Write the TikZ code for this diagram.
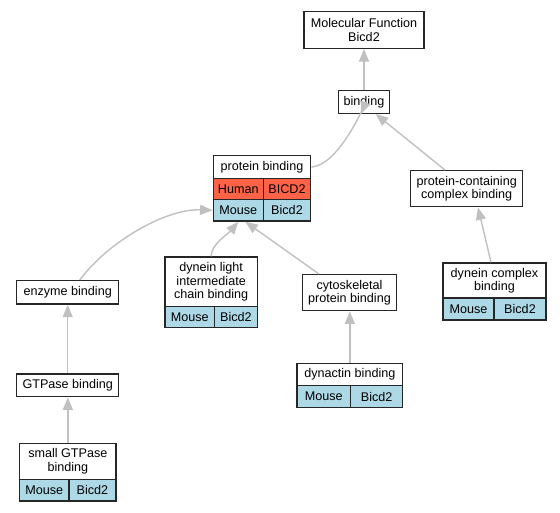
\documentclass[tikz,border=0pt]{standalone}
\usepackage{fontspec}
\setmainfont{Liberation Sans}
\usetikzlibrary{arrows.meta}
\definecolor{edgec}{HTML}{C0C0C0}
\definecolor{tomatoc}{HTML}{FF6347}
\definecolor{lbc}{HTML}{ADD8E6}
\newcommand\fnt{\fontsize{12.6}{13.2}\selectfont}
\tikzset{
  box/.style={draw=black!85, line width=1.4pt, fill=white, inner sep=0pt, align=center, font=\fnt},
  human/.style={box, fill=tomatoc},
  mouse/.style={box, fill=lbc},
  edge/.style={draw=edgec, line width=1.4pt, -{Triangle[length=12.5pt,width=10pt]}}
}
\newcommand\bx[7]{\node[#6, minimum width={#4pt-#2pt}, minimum height={#5pt-#3pt}] (#1) at ({(#2+#4)/2},{(#3+#5)/2}) {#7};}
\begin{document}
\begin{tikzpicture}[x=1pt,y=-1pt]
\useasboundingbox (0,0) rectangle (560,512);
% nodes
\bx{mf}{304}{11.7}{424}{48.3}{box}{Molecular Function\\Bicd2}
\bx{bind}{338.7}{90.3}{389.3}{113.3}{box}{binding}
\bx{pbt}{213.3}{155.7}{310.7}{178.3}{box}{protein binding}
\bx{pbh}{213.3}{178.3}{263.3}{199.7}{human}{Human}
\bx{pbhg}{263.3}{178.3}{310.7}{199.7}{human}{BICD2}
\bx{pbm}{213.3}{199.7}{263.3}{221}{mouse}{Mouse}
\bx{pbmg}{263.3}{199.7}{310.7}{221}{mouse}{Bicd2}
\bx{pcb}{410.7}{170.7}{522.7}{206.7}{box}{protein-containing\\complex binding}
\bx{enz}{16.7}{280.7}{118.7}{304}{box}{enzyme binding}
\bx{dl}{165}{257}{257.3}{306.7}{box}{dynein light\\intermediate\\chain binding}
\bx{dlm}{165}{306.7}{214.7}{327.7}{mouse}{Mouse}
\bx{dlg}{214.7}{306.7}{257.3}{327.7}{mouse}{Bicd2}
\bx{cyt}{302.3}{274.7}{396.7}{310.7}{box}{cytoskeletal\\protein binding}
\bx{dc}{443}{263}{546}{298}{box}{dynein complex\\binding}
\bx{dcm}{443}{298}{494}{320}{mouse}{Mouse}
\bx{dcg}{494}{298}{546}{320}{mouse}{Bicd2}
\bx{gtp}{16.7}{374}{118.7}{396.7}{box}{GTPase binding}
\bx{dyn}{297}{363.7}{402.7}{385.7}{box}{dynactin binding}
\bx{dynm}{297}{385.7}{350.7}{407.7}{mouse}{Mouse}
\bx{dyng}{350.7}{385.7}{402.7}{407.7}{mouse}{Bicd2}
\bx{sg}{19.7}{443.3}{116}{479.3}{box}{small GTPase\\binding}
\bx{sgm}{19.7}{479.3}{69}{501}{mouse}{Mouse}
\bx{sgg}{69}{479.3}{116}{501}{mouse}{Bicd2}
% edges
\draw[edge] (bind.north) -- (mf.south);
\draw[edge] (pbt.east) .. controls +(30,-2) and +(8,-20) .. ([xshift=-3pt]bind.south);
\draw[edge] ([xshift=-21.7pt]pcb.north) -- ([xshift=11.7pt]bind.south);
\draw[edge] ([xshift=12pt]enz.north) .. controls +(30,-40) and +(-45,-2) .. (pbm.west);
\draw[edge] (dl.north) .. controls +(0,-12) and +(-10,12) .. (pbm.south);
\draw[edge] ([xshift=-30.5pt]cyt.north) -- ([xshift=7pt]pbm.south);
\draw[edge] ([xshift=-3.5pt]dc.north) -- ([xshift=11.3pt]pcb.south);
\draw[edge] (gtp.north) -- (enz.south);
\draw[edge] (dyn.north) -- (cyt.south -| dyn.north);
\draw[edge] (sg.north) -- (gtp.south -| sg.north);
\end{tikzpicture}
\end{document}
